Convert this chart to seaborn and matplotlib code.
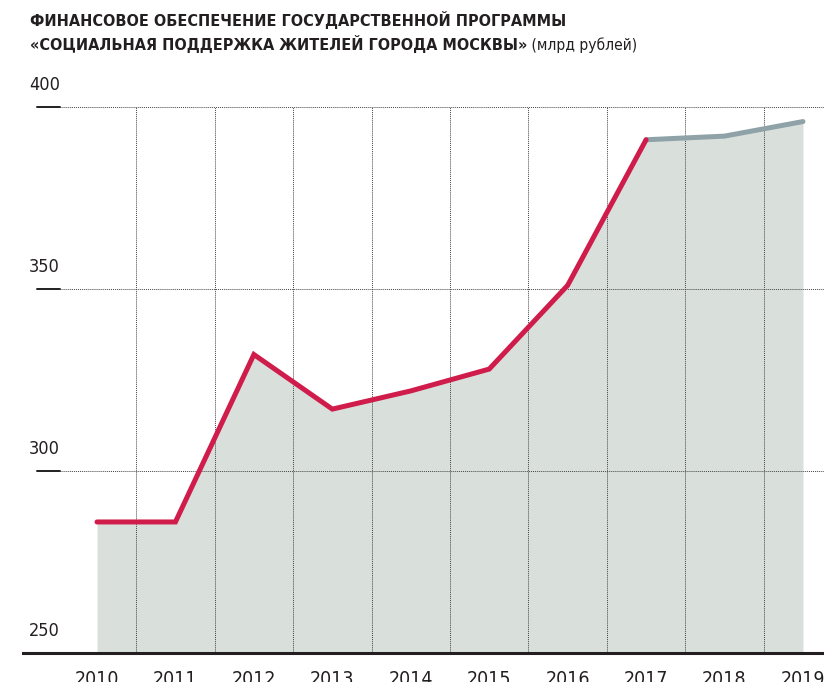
import matplotlib
matplotlib.use("Agg")
import matplotlib.pyplot as plt
import matplotlib.transforms as mtransforms
import seaborn as sns
import numpy as np
import pandas as pd

# data (billion roubles)
years = [2010, 2011, 2012, 2013, 2014, 2015, 2016, 2017, 2018, 2019]
funding = [286, 286, 332, 317, 322, 328, 351, 391, 392, 396]
y_ticks = [250, 300, 350, 400]
actual_until = 2017  # red part ends here, grey part after

title_bold_1 = "ФИНАНСОВОЕ ОБЕСПЕЧЕНИЕ ГОСУДАРСТВЕННОЙ ПРОГРАММЫ"
title_bold_2 = "«СОЦИАЛЬНАЯ ПОДДЕРЖКА ЖИТЕЛЕЙ ГОРОДА МОСКВЫ»"
title_unit = " (млрд рублей)"

sns.set_theme(style="white")
plt.rcParams["font.family"] = ["DejaVu Sans"]
plt.rcParams["font.stretch"] = "condensed"

RED = "#d01c4b"
GREY = "#8fa2a8"
FILL = "#d9e0dc"
DARK = "#231f20"

df = pd.DataFrame({"year": years, "value": funding})
df["pos"] = np.arange(len(df))
part_red = df[df["year"] <= actual_until]
part_grey = df[df["year"] >= actual_until]

W, H = 824, 682
fig = plt.figure(figsize=(W / 100, H / 100), dpi=100)
ax_l, ax_b, ax_t = 23, 29, 100
ax = fig.add_axes([ax_l / W, ax_b / H, (W - ax_l) / W, (H - ax_b - ax_t) / H])

step = 78.44
x0 = 97
ax.set_xlim((ax_l - x0) / step, (W - x0) / step)
ax.set_ylim(250, 250 + (H - ax_b - ax_t) / 3.64)

ax.fill_between(df["pos"], df["value"], 250, color=FILL, lw=0, zorder=1)

# grid: vertical dotted separators between years
bounds = np.arange(len(df) - 1) + 0.5
ax.vlines(bounds, 250, 400, colors="#444444", linestyles=(0, (1, 1)), lw=0.7, zorder=2)
# horizontal dotted grid with short solid stub on the left
ax_w = W - ax_l
for v in y_ticks[1:]:
    ax.axhline(v, xmin=(60 - ax_l) / ax_w, xmax=1, color="#444444", ls=(0, (1, 1)), lw=0.7, zorder=2)
    ax.axhline(v, xmin=(37 - ax_l) / ax_w, xmax=(60 - ax_l) / ax_w, color=DARK, lw=1.4, zorder=2)

sns.lineplot(data=part_red, x="pos", y="value", color=RED, lw=3.6, ax=ax, zorder=4,
             solid_capstyle="round", solid_joinstyle="miter")
sns.lineplot(data=part_grey, x="pos", y="value", color=GREY, lw=3.6, ax=ax, zorder=3,
             solid_capstyle="round", solid_joinstyle="miter")

# y labels sit above their gridline
off = mtransforms.offset_copy(ax.get_yaxis_transform(), fig=fig, x=0, y=22, units="dots")
for v in y_ticks:
    ax.text((29 - ax_l) / ax_w, v, str(v), transform=off, ha="left", va="center",
            fontsize=13, color=DARK)
ax.set_yticks([])

ax.set_xticks(df["pos"])
ax.set_xticklabels([str(y) for y in years], fontsize=14, color=DARK)
ax.set_xticks(bounds, minor=True)
ax.tick_params(axis="x", which="major", length=0, pad=12)
ax.tick_params(axis="x", which="minor", length=17, width=0.9, color="#333333", direction="out")
ax.set_xlabel("")
ax.set_ylabel("")

for s in ["top", "right", "left"]:
    ax.spines[s].set_visible(False)
ax.spines["bottom"].set_color(DARK)
ax.spines["bottom"].set_linewidth(2.2)
ax.spines["bottom"].set_zorder(5)

# title: two bold lines, unit in regular weight
t1 = fig.text(30 / W, 1 - 26 / H, title_bold_1, fontsize=11.6, fontweight="bold",
              color=DARK, ha="left", va="baseline")
t2 = fig.text(30 / W, 1 - 50 / H, title_bold_2, fontsize=11.6, fontweight="bold",
              color=DARK, ha="left", va="baseline")
fig.canvas.draw()
bb = t2.get_window_extent(fig.canvas.get_renderer())
fig.text(bb.x1 / W, 1 - 50 / H, title_unit, fontsize=11.2, color=DARK, ha="left", va="baseline")

fig.savefig("out.png", dpi=100)
